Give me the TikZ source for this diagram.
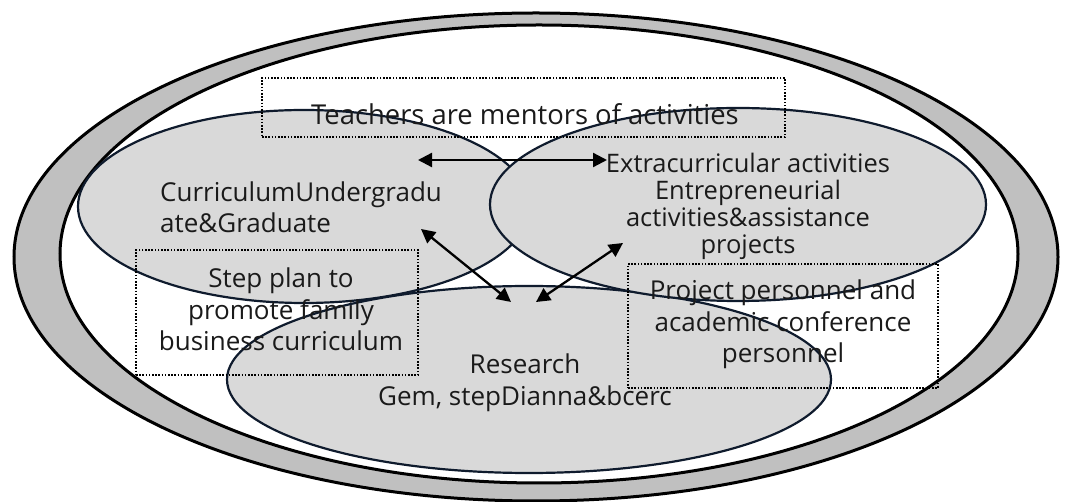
\documentclass[tikz,border=0pt]{standalone}
\usepackage{fontspec}
\setmainfont{Open Sans}
\usetikzlibrary{shapes.geometric,arrows.meta}
\definecolor{ringfill}{HTML}{C0C0C0}
\definecolor{blobfill}{HTML}{D9D9D9}
\definecolor{blobline}{HTML}{0F1B2D}
\definecolor{ink}{HTML}{1A1A1A}
\tikzset{
  blob/.style={ellipse, draw=blobline, fill=blobfill, line width=2.2pt, inner sep=0pt, outer sep=0pt},
  ringline/.style={draw=black, line width=3pt},
  dotbox/.style={draw=black, line width=1.6pt, dash pattern=on 1.6pt off 1.6pt, inner sep=0pt},
  label/.style={text=ink, inner sep=0pt, font=\fontsize{26}{31}\selectfont},
  link/.style={line width=2.3pt, draw=black, {Triangle[length=14pt,width=14pt]}-{Triangle[length=14pt,width=14pt]}},
}
\begin{document}
\begin{tikzpicture}[x=1pt,y=-1pt]
\useasboundingbox (0,0) rectangle (1072,502);
% outer grey ring
\fill[ringfill, even odd rule] (536,257) ellipse [x radius=522, y radius=244]
                               (539,254) ellipse [x radius=479, y radius=229];
\draw[ringline] (536,257) ellipse [x radius=522, y radius=244];
\draw[ringline] (539,254) ellipse [x radius=479, y radius=229];
% the three overlapping areas
\node[blob, minimum width=452pt, minimum height=193pt] (cur) at (304,206.5) {};
\node[blob, minimum width=604pt, minimum height=187pt] (res) at (529,379.5) {};
\node[blob, minimum width=496pt, minimum height=193pt] (ext) at (738,204.5) {};
% dotted frames
\node[dotbox, minimum width=523pt, minimum height=59pt] (tbox) at (523.5,107.5) {};
\node[dotbox, minimum width=282pt, minimum height=125pt] (sbox) at (277,312.5) {};
\node[dotbox, minimum width=310pt, minimum height=124pt] (pbox) at (783,326) {};
% texts (anchor=base sits on the last line of each block)
\node[label, font=\fontsize{27.4}{31}\selectfont, anchor=base] (tt) at (525,125) {Teachers are mentors of activities};
\node[label, align=left, anchor=base west] (ct) at (160,233) {CurriculumUndergradu\\ate\&Graduate};
\node[label, align=center, anchor=base, font=\fontsize{25.5}{27}\selectfont] (et) at (748,254)
  {Extracurricular activities\\Entrepreneurial\\activities\&assistance\\projects};
\node[label, align=center, anchor=base, font=\fontsize{26}{31.5}\selectfont] (st) at (281,351)
  {Step plan to\\promote family\\business curriculum};
\node[label, align=center, anchor=base, font=\fontsize{26}{32}\selectfont] (rt) at (525,406)
  {Research\\Gem, stepDianna\&bcerc};
\node[label, align=center, anchor=base, font=\fontsize{26}{31.5}\selectfont] (pt) at (783,363)
  {Project personnel and\\academic conference\\personnel};
% arrow ends
\coordinate (hL) at (418,160);
\coordinate (hR) at (607,160);
\coordinate (dA) at (421,229);
\coordinate (dB) at (511,302);
\coordinate (dC) at (536,302);
\coordinate (dD) at (623,243);
\draw[link] (hL) -- (hR);
\draw[link] (dA) -- (dB);
\draw[link] (dC) -- (dD);
\end{tikzpicture}
\end{document}
